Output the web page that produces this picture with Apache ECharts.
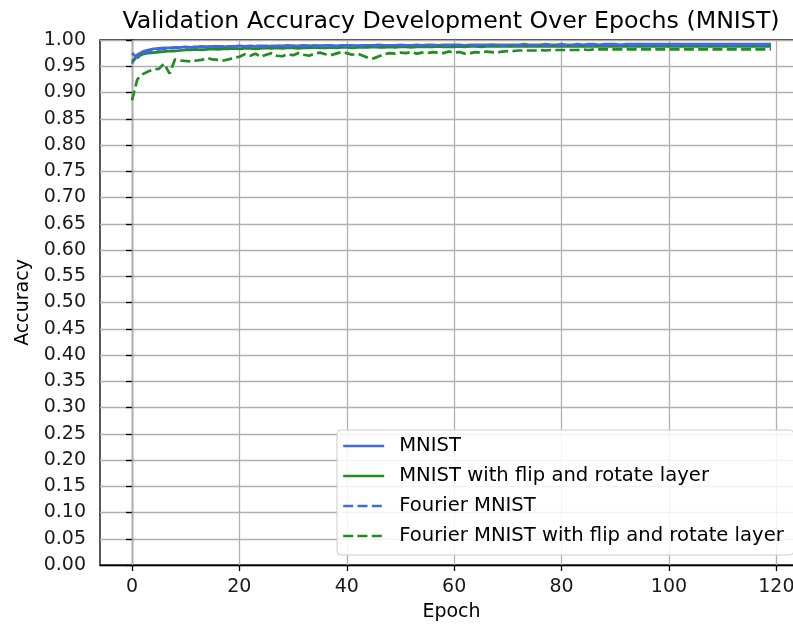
<!DOCTYPE html>
<html>
<head>
<meta charset="utf-8">
<script src="https://cdn.jsdelivr.net/npm/echarts@6/dist/echarts.min.js"></script>
<style>html,body{margin:0;padding:0;background:#fff}#c{width:793px;height:627px}</style>
</head>
<body>
<div id="c"></div>
<script>
const titleText = 'Validation Accuracy Development Over Epochs (MNIST)';
const seriesNames = ['MNIST', 'MNIST with flip and rotate layer', 'Fourier MNIST', 'Fourier MNIST with flip and rotate layer'];
const xTicks = [0, 20, 40, 60, 80, 100, 120];

const mnist = [
0.955,0.972,0.978,0.981,0.983,0.984,0.985,0.985,0.986,0.986,
0.987,0.986,0.987,0.988,0.987,0.988,0.988,0.987,0.988,0.988,
0.989,0.988,0.989,0.988,0.989,0.989,0.988,0.989,0.989,0.990,
0.989,0.989,0.990,0.989,0.990,0.989,0.990,0.990,0.989,0.990,
0.990,0.990,0.989,0.990,0.990,0.990,0.991,0.990,0.990,0.990,
0.991,0.990,0.990,0.991,0.990,0.991,0.991,0.990,0.991,0.991,
0.991,0.991,0.990,0.991,0.991,0.991,0.991,0.991,0.991,0.991,
0.991,0.991,0.991,0.992,0.991,0.991,0.991,0.992,0.991,0.991,
0.992,0.991,0.991,0.992,0.991,0.992,0.992,0.991,0.992,0.992,
0.992,0.991,0.992,0.992,0.992,0.992,0.992,0.992,0.992,0.992,
0.992,0.992,0.992,0.992,0.992,0.992,0.992,0.992,0.992,0.992,
0.992,0.992,0.992,0.992,0.992,0.992,0.992,0.992,0.992,0.992];

const mnistFlip = [
0.960,0.968,0.973,0.975,0.976,0.977,0.978,0.979,0.979,0.980,
0.981,0.981,0.982,0.981,0.982,0.983,0.982,0.983,0.983,0.984,
0.983,0.984,0.984,0.983,0.984,0.985,0.984,0.985,0.984,0.985,
0.985,0.984,0.985,0.985,0.986,0.985,0.985,0.986,0.985,0.986,
0.986,0.985,0.986,0.986,0.986,0.987,0.986,0.986,0.987,0.986,
0.987,0.987,0.986,0.987,0.987,0.987,0.987,0.988,0.987,0.987,
0.987,0.988,0.987,0.988,0.988,0.987,0.988,0.988,0.988,0.988,
0.988,0.988,0.988,0.988,0.988,0.988,0.988,0.988,0.988,0.988,
0.988,0.988,0.988,0.988,0.988,0.988,0.988,0.988,0.988,0.988,
0.988,0.988,0.988,0.988,0.988,0.988,0.988,0.988,0.988,0.988,
0.988,0.988,0.988,0.988,0.988,0.988,0.988,0.988,0.988,0.988,
0.988,0.988,0.988,0.988,0.988,0.988,0.988,0.988,0.988,0.988];

const fourier = [
0.975,0.966,0.974,0.978,0.981,0.982,0.983,0.984,0.985,0.985,
0.986,0.986,0.987,0.986,0.987,0.988,0.987,0.988,0.987,0.988,
0.988,0.987,0.988,0.989,0.988,0.988,0.989,0.988,0.989,0.988,
0.989,0.988,0.989,0.989,0.988,0.989,0.989,0.989,0.988,0.989,
0.989,0.990,0.989,0.989,0.990,0.989,0.990,0.989,0.990,0.990,
0.989,0.990,0.990,0.990,0.989,0.990,0.990,0.990,0.990,0.990,
0.990,0.990,0.990,0.990,0.990,0.990,0.990,0.991,0.990,0.990,
0.990,0.990,0.990,0.990,0.990,0.990,0.990,0.990,0.990,0.990,
0.990,0.990,0.990,0.990,0.990,0.990,0.990,0.990,0.990,0.990,
0.990,0.990,0.990,0.990,0.990,0.990,0.990,0.990,0.990,0.990,
0.990,0.990,0.990,0.990,0.990,0.990,0.990,0.990,0.990,0.990,
0.990,0.990,0.990,0.990,0.990,0.990,0.990,0.990,0.990,0.990];

const fourierFlip = [
0.885,0.925,0.935,0.940,0.944,0.945,0.955,0.936,0.963,0.961,
0.960,0.959,0.961,0.962,0.966,0.963,0.962,0.961,0.963,0.966,
0.968,0.973,0.970,0.974,0.968,0.972,0.975,0.970,0.969,0.973,
0.971,0.975,0.972,0.970,0.974,0.976,0.973,0.971,0.974,0.977,
0.975,0.972,0.974,0.970,0.966,0.965,0.969,0.973,0.975,0.974,
0.976,0.975,0.977,0.974,0.976,0.975,0.977,0.976,0.975,0.978,
0.976,0.977,0.974,0.975,0.977,0.976,0.978,0.977,0.976,0.978,
0.979,0.979,0.980,0.980,0.980,0.980,0.981,0.980,0.981,0.981,
0.981,0.981,0.981,0.981,0.982,0.981,0.982,0.982,0.982,0.982,
0.982,0.982,0.982,0.982,0.982,0.982,0.982,0.982,0.982,0.982,
0.982,0.982,0.982,0.982,0.982,0.982,0.982,0.982,0.982,0.982,
0.982,0.982,0.982,0.982,0.982,0.982,0.982,0.982,0.982,0.982];

const epochs = mnist.map((_, i) => i);
const pairs = arr => arr.map((v, i) => [epochs[i], v]);

const BLUE = '#4169e1', GREEN = '#228b22';
const FONT = 'DejaVu Sans';
const LW = 2.7;
const DASH = [10, 4.3];

const chart = echarts.init(document.getElementById('c'), null, {renderer: 'canvas'});
chart.setOption({
  animation: false,
  backgroundColor: '#fff',
  textStyle: {fontFamily: FONT},
  title: {
    text: titleText, left: 446, top: 5, textAlign: 'center',
    textStyle: {fontFamily: FONT, fontSize: 23.7, fontWeight: 'normal', color: '#000'}
  },
  grid: {left: 100, top: 40, width: 703, height: 525, outerBoundsMode: 'none', containLabel: false,
    show: true, borderColor: '#000', borderWidth: 1.3, backgroundColor: 'transparent'},
  legend: {
    orient: 'vertical', left: 337, top: 430,
    data: seriesNames,
    itemWidth: 41, itemHeight: 18, itemGap: 10,
    padding: [6, 10, 9, 5],
    itemStyle: {color: 'rgba(0,0,0,0)', borderColor: 'rgba(0,0,0,0)', borderWidth: 0, opacity: 0},
    lineStyle: {width: 2.4},
    backgroundColor: 'rgba(255,255,255,0.85)', borderColor: '#cccccc', borderWidth: 1, borderRadius: 4,
    textStyle: {fontFamily: FONT, fontSize: 19.6, color: '#000', lineHeight: 18, padding: [0, 0, 0, 10]}
  },
  xAxis: {
    type: 'value', min: -5.95, max: 124.95,
    name: 'Epoch', nameLocation: 'middle', nameGap: 38,
    nameTextStyle: {fontFamily: FONT, fontSize: 19, color: '#000'},
    axisLine: {show: true, onZero: false, lineStyle: {color: '#000', width: 1.3}},
    axisTick: {show: true, length: 6, lineStyle: {color: '#000', width: 1.3}, customValues: xTicks},
    axisLabel: {fontFamily: FONT, fontSize: 19, color: '#1a1a1a', margin: 13, customValues: xTicks, showMinLabel: true, showMaxLabel: true},
    splitLine: {show: false}
  },
  yAxis: {
    type: 'value', min: 0, max: 1, interval: 0.05,
    name: 'Accuracy', nameLocation: 'middle', nameGap: 67, nameRotate: 90,
    nameTextStyle: {fontFamily: FONT, fontSize: 19, color: '#000'},
    axisLine: {show: true, lineStyle: {color: '#000', width: 1.3}},
    axisTick: {show: true, length: 6, lineStyle: {color: '#000', width: 1.3}},
    axisLabel: {fontFamily: FONT, fontSize: 19, color: '#1a1a1a', margin: 14, formatter: v => v.toFixed(2)},
    splitLine: {show: true, lineStyle: {color: '#b0b0b0', width: 1.3}}
  },
  series: [
    {
      name: '__grid', type: 'line', data: [], silent: true, legendHoverLink: false,
      markLine: {
        silent: true, symbol: ['none', 'none'], z: 1, label: {show: false},
        lineStyle: {color: '#b0b0b0', width: 1.3, type: 'solid'},
        data: xTicks.map(t => ({xAxis: t}))
      }
    },
    {name: seriesNames[0], type: 'line', data: pairs(mnist), symbol: 'none', showSymbol: false, z: 3,
      lineStyle: {color: BLUE, width: LW, type: 'solid'}, itemStyle: {color: BLUE}},
    {name: seriesNames[1], type: 'line', data: pairs(mnistFlip), symbol: 'none', showSymbol: false, z: 3,
      lineStyle: {color: GREEN, width: LW, type: 'solid'}, itemStyle: {color: GREEN}},
    {name: seriesNames[2], type: 'line', data: pairs(fourier), symbol: 'none', showSymbol: false, z: 3,
      lineStyle: {color: BLUE, width: LW, type: DASH}, itemStyle: {color: BLUE}},
    {name: seriesNames[3], type: 'line', data: pairs(fourierFlip), symbol: 'none', showSymbol: false, z: 3,
      lineStyle: {color: GREEN, width: LW, type: DASH}, itemStyle: {color: GREEN}}
  ]
});
</script>
</body>
</html>
